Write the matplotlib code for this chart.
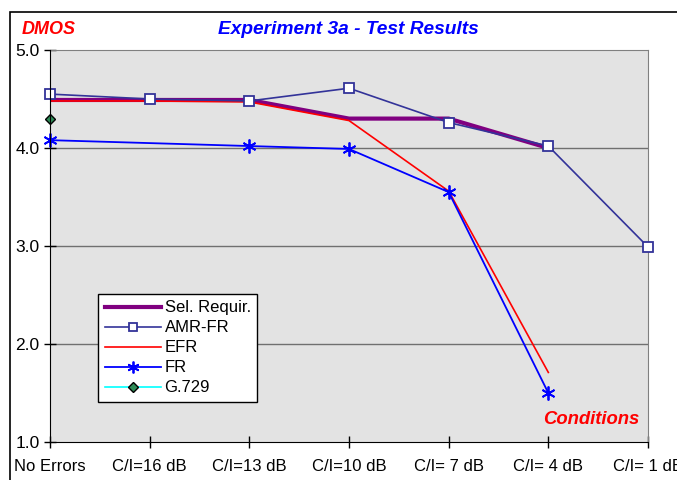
import matplotlib
matplotlib.use("Agg")
import matplotlib.pyplot as plt
import numpy as np
from matplotlib.patches import Rectangle

plt.rcParams['font.family'] = ['Liberation Sans', 'DejaVu Sans']

# Donnees
conditions = ['No Errors', 'C/I=16 dB', 'C/I=13 dB', 'C/I=10 dB',
              'C/I= 7 dB', 'C/I= 4 dB', 'C/I= 1 dB']
sel_requir = [4.49, 4.49, 4.49, 4.30, 4.30, 4.00, np.nan]
amr_fr = [4.55, 4.50, 4.48, 4.61, 4.26, 4.02, 2.99]
efr = [4.48, 4.48, 4.47, 4.28, 3.56, 1.71, np.nan]
fr = [4.08, np.nan, 4.02, 3.99, 3.55, 1.50, np.nan]
g729 = [4.30, np.nan, np.nan, np.nan, np.nan, np.nan, np.nan]

x = np.arange(len(conditions))

def valid(vals):
    v = np.array(vals, dtype=float)
    m = ~np.isnan(v)
    return x[m], v[m]

fig = plt.figure(figsize=(6.77, 4.8), dpi=100)
W, H = 677, 480
ax = fig.add_axes([50 / W, 1 - 442 / H, 598 / W, 392 / H])
ax.set_facecolor('#e3e3e3')

# cadre exterieur
fig.patches.append(Rectangle((10 / W, -0.1), 1.2, 1 - 12 / H + 0.1,
                             transform=fig.transFigure, fill=False,
                             edgecolor='black', linewidth=1.2, zorder=0))

for yv in [2.0, 3.0, 4.0]:
    ax.axhline(yv, color='#707070', linewidth=1.0, zorder=1)

xs, ys = valid(sel_requir)
ax.plot(xs, ys, color='#800080', linewidth=3, label='Sel. Requir.', zorder=3)
xs, ys = valid(amr_fr)
ax.plot(xs, ys, color='#333399', linewidth=1.2, marker='s', markersize=7,
        markerfacecolor='white', markeredgecolor='#333399', markeredgewidth=1.3,
        label='AMR-FR', zorder=5, clip_on=False)
xs, ys = valid(efr)
ax.plot(xs, ys, color='#ff0000', linewidth=1.2, label='EFR', zorder=4)
xs, ys = valid(fr)
ax.plot(xs, ys, color='#0000ff', linewidth=1.3, marker=(6, 2, 0), markersize=10,
        markeredgecolor='#0000ff', markeredgewidth=1.3, label='FR', zorder=4,
        clip_on=False)
xs, ys = valid(g729)
ax.plot(xs, ys, color='#00ffff', linewidth=1.2, marker='D', markersize=5.5,
        markerfacecolor='#2e8b57', markeredgecolor='black', markeredgewidth=1,
        label='G.729', zorder=6, clip_on=False)

ax.set_xlim(0, len(conditions) - 1)
ax.set_ylim(1.0, 5.0)
ax.set_xticks(x)
ax.set_xticklabels(conditions, fontsize=12)
ax.set_yticks([1.0, 2.0, 3.0, 4.0, 5.0])
ax.set_yticklabels(['1.0', '2.0', '3.0', '4.0', '5.0'], fontsize=12.5)
ax.tick_params(axis='both', direction='inout', length=9, width=1, color='black')
ax.tick_params(axis='x', pad=8)
ax.tick_params(axis='y', pad=3)

for s in ['top', 'right']:
    ax.spines[s].set_color('#808080')
for s in ['left', 'bottom']:
    ax.spines[s].set_color('black')
    ax.spines[s].set_zorder(7)

fig.text(22 / W, 1 - 30 / H, 'DMOS', color='#ff0000', fontsize=13,
         fontweight='bold', fontstyle='italic', va='center', ha='left')
fig.text(348 / W, 1 - 29 / H, 'Experiment 3a - Test Results', color='#0000ff',
         fontsize=13.8, fontweight='bold', fontstyle='italic', va='center', ha='center')
ax.text(0.985, 0.057, 'Conditions', transform=ax.transAxes, color='#ff0000',
        fontsize=13.3, fontweight='bold', fontstyle='italic', ha='right', va='center')

leg = ax.legend(loc='lower left', bbox_to_anchor=(0.08, 0.102), borderaxespad=0,
                fontsize=12, frameon=True, fancybox=False, framealpha=1,
                edgecolor='black', handlelength=3.4, handletextpad=0.2,
                labelspacing=0.3, borderpad=0.4, markerscale=0.85)
leg.get_frame().set_linewidth(1.0)
leg.set_zorder(10)

fig.savefig('out.png', dpi=100)
